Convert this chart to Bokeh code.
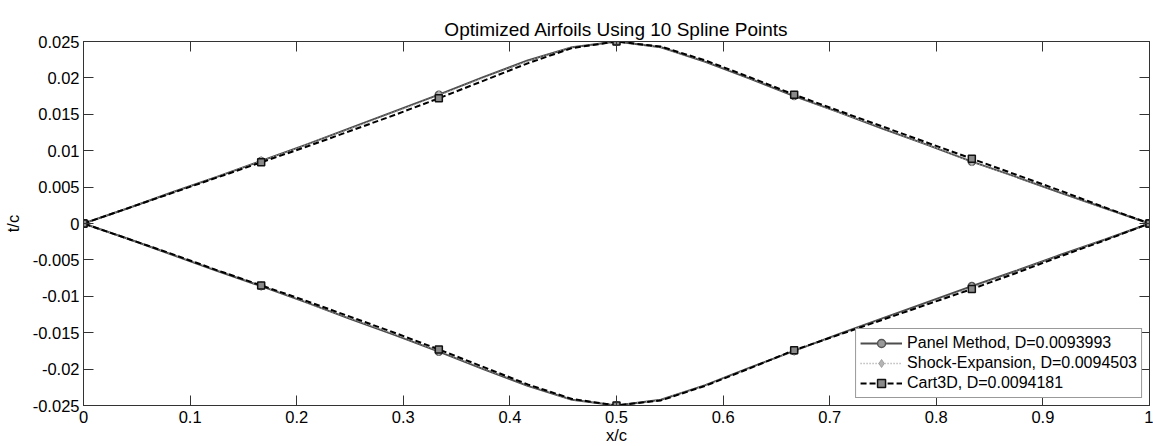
from bokeh.plotting import figure
from bokeh.models import LinearAxis, FixedTicker, Range1d, Legend, LegendItem
from bokeh.embed import file_html
from bokeh.resources import INLINE

# ---------------- data ----------------
x_pts = [i / 24 for i in range(25)]

panel_upper = [0, 0.0021, 0.0043, 0.0064, 0.0086, 0.0108, 0.0131, 0.0154, 0.0177,
               0.0201, 0.0224, 0.0242, 0.0250, 0.0242, 0.0222, 0.0199, 0.0175,
               0.0153, 0.0130, 0.0108, 0.0085, 0.0064, 0.0042, 0.0021, 0]
panel_lower = [0, -0.0021, -0.0043, -0.0065, -0.0086, -0.0108, -0.0131, -0.0153, -0.0176,
               -0.0200, -0.0223, -0.0242, -0.0250, -0.0242, -0.0222, -0.0198, -0.0175,
               -0.0152, -0.0130, -0.0108, -0.0086, -0.0065, -0.0043, -0.0022, 0]

shock_upper = [0, 0.0021, 0.0043, 0.0064, 0.0086, 0.0108, 0.0130, 0.0153, 0.0176,
               0.0200, 0.0223, 0.0242, 0.0250, 0.0242, 0.0223, 0.0200, 0.0176,
               0.0153, 0.0131, 0.0108, 0.0085, 0.0064, 0.0043, 0.0021, 0]
shock_lower = [0, -0.0021, -0.0043, -0.0064, -0.0086, -0.0108, -0.0130, -0.0152, -0.0175,
               -0.0199, -0.0222, -0.0242, -0.0250, -0.0242, -0.0222, -0.0199, -0.0175,
               -0.0153, -0.0131, -0.0110, -0.0088, -0.0066, -0.0044, -0.0022, 0]

cart_upper = [0, 0.0021, 0.0042, 0.0063, 0.0084, 0.0105, 0.0127, 0.0149, 0.0172,
              0.0196, 0.0220, 0.0241, 0.0250, 0.0243, 0.0224, 0.0201, 0.0177,
              0.0155, 0.0133, 0.0111, 0.0089, 0.0067, 0.0045, 0.0022, 0]
cart_lower = [0, -0.0021, -0.0042, -0.0064, -0.0085, -0.0106, -0.0128, -0.0150, -0.0173,
              -0.0197, -0.0221, -0.0241, -0.0250, -0.0243, -0.0223, -0.0199, -0.0174,
              -0.0153, -0.0132, -0.0111, -0.0090, -0.0068, -0.0045, -0.0023, 0]

series_names = ["Panel Method, D=0.0093993",
                "Shock-Expansion, D=0.0094503",
                "Cart3D, D=0.0094181"]

x_ticks = [0, 0.1, 0.2, 0.3, 0.4, 0.5, 0.6, 0.7, 0.8, 0.9, 1]
x_tick_labels = ["0", "0.1", "0.2", "0.3", "0.4", "0.5", "0.6", "0.7", "0.8", "0.9", "1"]
y_ticks = [0.025, 0.02, 0.015, 0.01, 0.005, 0, -0.005, -0.01, -0.015, -0.02, -0.025]
y_tick_labels = ["0.025", "0.02", "0.015", "0.01", "0.005", "0", "-0.005", "-0.01",
                 "-0.015", "-0.02", "-0.025"]

FONT = "Liberation Sans"
AXC = "#333333"

p = figure(width=1153, height=446, output_backend="svg", toolbar_location=None,
           x_range=Range1d(0, 1), y_range=Range1d(-0.025, 0.025),
           min_border_left=83, min_border_right=4, min_border_top=41, min_border_bottom=37,
           title="Optimized Airfoils Using 10 Spline Points")
p.background_fill_color = "white"
p.border_fill_color = "white"
p.outline_line_color = AXC
p.xgrid.visible = False
p.ygrid.visible = False

p.title.align = "center"
p.title.text_font = FONT
p.title.text_font_size = "19px"
p.title.text_font_style = "normal"
p.title.text_color = "black"
p.title.standoff = 4

def style_axis(ax, ticks, labels, show_labels=True):
    ax.ticker = FixedTicker(ticks=ticks)
    ax.major_tick_in = 10
    ax.major_tick_out = 0
    ax.minor_tick_line_color = None
    ax.axis_line_color = AXC
    ax.major_tick_line_color = AXC
    if show_labels:
        ax.major_label_overrides = {t: l for t, l in zip(ticks, labels)}
        ax.major_label_text_font = FONT
        ax.major_label_text_font_size = "16.5px"
        ax.major_label_text_color = "black"
        ax.major_label_standoff = 4
    else:
        ax.major_label_text_color = None
        ax.major_label_text_font_size = "1px"
        ax.major_label_standoff = 0
    ax.axis_label_text_font = FONT
    ax.axis_label_text_font_size = "16.5px"
    ax.axis_label_text_font_style = "normal"
    ax.axis_label_text_color = "black"

style_axis(p.xaxis[0], x_ticks, x_tick_labels)
style_axis(p.yaxis[0], y_ticks, y_tick_labels)
p.xaxis[0].major_label_standoff = 5
p.xaxis[0].axis_label = "x/c"
p.xaxis[0].axis_label_standoff = 0
p.yaxis[0].axis_label = "t/c"
p.yaxis[0].axis_label_standoff = 8

top_ax = LinearAxis()
style_axis(top_ax, x_ticks, x_tick_labels, show_labels=False)
p.add_layout(top_ax, "above")
right_ax = LinearAxis()
style_axis(right_ax, y_ticks, y_tick_labels, show_labels=False)
p.add_layout(right_ax, "right")

def loop(up, lo):
    xs = list(x_pts) + list(reversed(x_pts))
    ys = list(up) + list(reversed(lo))
    return xs, ys

def markers(up, lo):
    xs = x_pts[::4] + x_pts[::4]
    ys = up[::4] + lo[::4]
    return xs, ys

items = []
# Panel method
xs, ys = loop(panel_upper, panel_lower)
l1 = p.line(xs, ys, line_color="#4d4d4d", line_width=2)
mx, my = markers(panel_upper, panel_lower)
m1 = p.scatter(mx, my, marker="circle", size=7, line_color="#555555",
               fill_color="#9a9a9a", line_width=1.5)
items.append(LegendItem(label=series_names[0], renderers=[l1, m1]))

# Shock-Expansion
xs, ys = loop(shock_upper, shock_lower)
l2 = p.line(xs, ys, line_color="#9a9a9a", line_width=1.5, line_dash="1 2")
mx, my = markers(shock_upper, shock_lower)
m2 = p.scatter(mx, my, marker="diamond", size=9, line_color="#a0a0a0",
               fill_color="#b5b5b5", line_width=1)
items.append(LegendItem(label=series_names[1], renderers=[l2, m2]))

# Cart3D
xs, ys = loop(cart_upper, cart_lower)
l3 = p.line(xs, ys, line_color="black", line_width=2, line_dash="6 3")
mx, my = markers(cart_upper, cart_lower)
m3 = p.scatter(mx, my, marker="square", size=7, line_color="#111111",
               fill_color="#8a8a8a", line_width=1.5)
items.append(LegendItem(label=series_names[2], renderers=[l3, m3]))

legend = Legend(items=items, location="bottom_right")
legend.margin = 7
legend.padding = 4
legend.spacing = 0
legend.label_height = 20
legend.glyph_height = 20
legend.glyph_width = 42
legend.label_standoff = 5
legend.label_text_font = FONT
legend.label_text_font_size = "16px"
legend.label_text_color = "black"
legend.border_line_color = AXC
legend.border_line_width = 1
legend.background_fill_color = "white"
legend.background_fill_alpha = 1
p.add_layout(legend, "center")

open("out.html", "w").write(file_html(p, INLINE))
